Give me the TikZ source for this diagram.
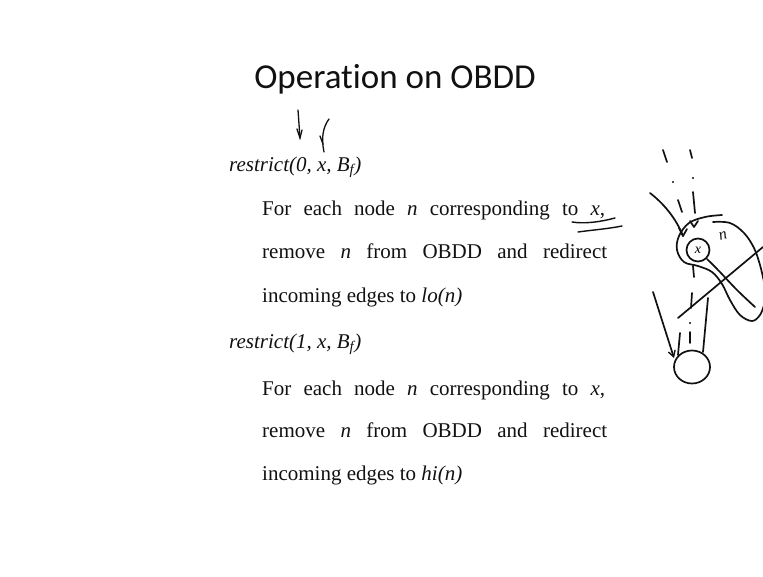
\documentclass[tikz,border=0pt]{standalone}
\usepackage{fontspec}
\setmainfont{Liberation Serif}
\newfontfamily\titlefont[Ligatures=NoCommon]{Carlito}
\usetikzlibrary{arrows.meta,shapes.geometric}
\definecolor{ink}{HTML}{111111}
\tikzset{
  body/.style={anchor=base west, inner sep=0pt, text=ink, font=\fontsize{21}{25}\selectfont},
  heading/.style={anchor=base west, inner sep=0pt, text=ink, font=\fontsize{21}{25}\selectfont\itshape},
  pen/.style={draw=ink, line width=1.7pt, line cap=round, line join=round},
  thinpen/.style={draw=ink, line width=1.3pt, line cap=round},
  barb/.style={-{Straight Barb[length=6pt,width=7pt,line width=1.4pt]}},
}
\begin{document}
\begin{tikzpicture}[x=1pt,y=-1pt]
\useasboundingbox[fill=white] (0,0) rectangle (763,576);

% title
\node[anchor=base, inner sep=0pt, text=ink, font=\titlefont\fontsize{35}{40}\selectfont] (title) at (395,88) {Operation on OBDD};

% first operation
\node[heading] (r0) at (229,171) {restrict(0, x, B\textsubscript{f})};
\node[body] (a1) at (262,215) {\makebox[343pt][s]{For each node \textit{n} corresponding to \textit{x},}};
\node[body] (a2) at (262,258) {\makebox[345pt][s]{remove \textit{n} from OBDD and redirect}};
\node[body] (a3) at (262,302) {incoming edges to \textit{lo(n)}};

% second operation
\node[heading] (r1) at (229,348) {restrict(1, x, B\textsubscript{f})};
\node[body] (b1) at (262,395) {\makebox[343pt][s]{For each node \textit{n} corresponding to \textit{x},}};
\node[body] (b2) at (262,437) {\makebox[345pt][s]{remove \textit{n} from OBDD and redirect}};
\node[body] (b3) at (262,480) {incoming edges to \textit{hi(n)}};

% pen marks over the first heading
\draw[thinpen] (298,110) -- (300,138);
\draw[thinpen] (297,129) -- (300,138) -- (302,130);
\draw[thinpen] (329,119) .. controls (323,127) and (321,138) .. (324,152);
\draw[thinpen] (320,136) -- (323,144);

% double underline under x,
\draw[pen, line width=1.4pt] (572,222) .. controls (585,224) and (600,222) .. (615,218);
\draw[pen, line width=1.4pt] (578,232) .. controls (592,230) and (607,229) .. (622,226);

% sketch: node x and its surroundings
\node[pen, circle, minimum size=23pt, inner sep=0pt, font=\fontsize{14}{14}\selectfont\itshape] (nx) at (698,250) {x};
\node[text=ink, font=\fontsize{16}{16}\selectfont\itshape, rotate=15] (nlab) at (723,236) {n};
\node[pen, ellipse, minimum width=36pt, minimum height=33pt, inner sep=0pt] (leaf) at (692,367) {};

% dashed incoming edges from above
\draw[pen] (663,150) -- (667,162);
\draw[pen] (690,150) -- (692,158);
\fill[ink] (673,182) circle (1.1pt) (693,178) circle (1.1pt);
\draw[pen] (678,200) -- (682,212);
\draw[pen] (693,192) -- (695,213);
\draw[pen] (690,221) -- (694,227) -- (698,221);
\draw[pen] (650,193) .. controls (663,203) and (676,218) .. (683,236);
\draw[pen] (679,228) -- (683,236) -- (687,229);

% loop around the node
\draw[pen] plot[smooth, tension=0.6] coordinates {(722,215) (705,217) (689,223) (679,236) (677,250) (684,262) (698,266) (712,272) (722,284) (730,300) (740,315) (752,321) (760,315) (764,305)};
\draw[pen] plot[smooth, tension=0.6] coordinates {(713,222) (730,223) (744,233) (754,248) (760,265) (764,282)};

% edge leaving the node
\draw[pen] plot[smooth, tension=0.6] coordinates {(707,259) (719,271) (737,290) (755,307)};

% crossing stroke
\draw[pen] (678,318) -- (763,247);

% dashed edge down to the leaf
\draw[pen] (693,266) -- (694,277);
\draw[pen] (692,293) -- (691,308);
\fill[ink] (690,323) circle (1.1pt);
\draw[pen] (690,332) -- (690,343);
\draw[pen] (708,298) -- (703,352);
\draw[pen] (680,333) -- (678,355);
\draw[pen, barb] (653,292) -- (674,358);
\end{tikzpicture}
\end{document}
